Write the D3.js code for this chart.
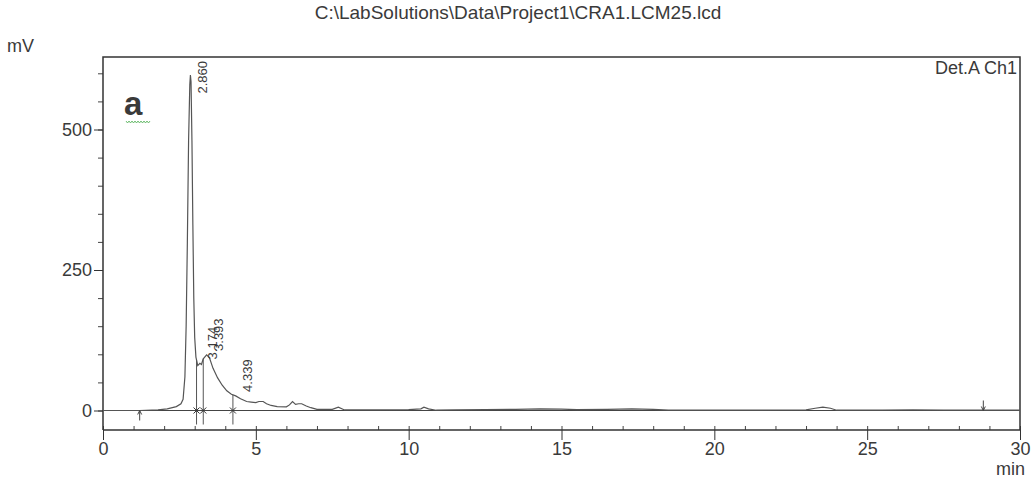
<!DOCTYPE html>
<html>
<head>
<meta charset="utf-8">
<script src="https://cdn.jsdelivr.net/npm/d3@7"></script>
<style>
  body { margin: 0; background: #fff; }
  text { font-family: "Liberation Sans", Arial, sans-serif; fill: #3a3a3a; }
</style>
</head>
<body>
<script>
// chromatogram
var times = [0, 1.2, 1.8, 2.1, 2.4, 2.55, 2.62, 2.68, 2.72, 2.76, 2.8, 2.84, 2.86, 2.88, 2.91, 2.94, 2.97, 3.0, 3.04, 3.1,
  3.17, 3.22, 3.28, 3.39, 3.48, 3.6, 3.75, 3.9, 4.05, 4.2, 4.34, 4.5, 4.7, 4.85, 5.0, 5.1, 5.24, 5.35, 5.5, 5.7,
  6.0, 6.1, 6.2, 6.3, 6.4, 6.5, 6.65, 6.8, 7.0, 7.5, 7.7, 7.9, 9.0, 10.0, 10.4, 10.5, 10.65, 10.9, 11.5, 12.5,
  13.5, 14.3, 15.0, 15.5, 16.5, 17.3, 18.0, 18.5, 19.5, 21.0, 23.0, 23.3, 23.55, 23.8, 24.0, 25.5, 26.5, 27.5, 29.0, 30.0];
var signal = [0, 0, 1, 3, 7, 12, 20, 60, 150, 300, 480, 580, 597, 585, 480, 330, 200, 130, 95, 80,
  84, 82, 92, 99, 94, 75, 58, 45, 35, 29, 26, 21, 16, 15, 14, 16, 16, 12, 9, 7,
  6.5, 10, 16, 11, 12, 12, 8, 5, 2, 2, 6, 1, 1, 1.5, 3, 6, 3, 0.5, 1, 1.5,
  2, 3, 2.5, 1.5, 2, 3, 2, 0.5, 0.5, 0.5, 1, 4, 6, 4, 0.5, 0.5, 1, 0.5, 0.5, 0.5];

var peakTimes = [2.860, 3.174, 3.393, 4.339];
var peakLabels = ["2.860", "3.174", "3.393", "4.339"];
var cutTimes = [3.06, 3.28, 4.25];
var startTime = 1.2, endTime = 28.8;

var xTicks = [0, 5, 10, 15, 20, 25, 30];
var yTicks = [0, 250, 500];

var title = "C:\\LabSolutions\\Data\\Project1\\CRA1.LCM25.lcd";

var W = 1036, H = 480;
var pLeft = 103, pRight = 1020, pTop = 57, pBottom = 430;

var svg = d3.select("body").append("svg")
  .attr("width", W).attr("height", H);

var x = d3.scaleLinear().domain([0, 30]).range([pLeft, pRight]);
var y = d3.scaleLinear().domain([0, 500]).range([410.5, 129.5]);

var data = times.map(function(t, i) { return {t: t, v: signal[i]}; });
var bis = d3.bisector(function(d) { return d.t; }).left;
function valueAt(t) {
  var i = bis(data, t);
  if (i <= 0) return data[0].v;
  var a = data[i - 1], b = data[i];
  return a.v + (b.v - a.v) * (t - a.t) / (b.t - a.t);
}

// minor ticks
svg.append("g")
  .attr("transform", "translate(0," + pBottom + ")")
  .call(d3.axisBottom(x).tickValues(d3.range(0, 31, 1)).tickSize(-4).tickFormat(""))
  .call(function(g) { g.select(".domain").remove(); g.selectAll("line").attr("stroke", "#444"); });
svg.append("g")
  .attr("transform", "translate(" + pLeft + ",0)")
  .call(d3.axisLeft(y).tickValues(d3.range(-0, 651, 50).filter(function(v) { return y(v) >= pTop; })).tickSize(5).tickFormat(""))
  .call(function(g) { g.select(".domain").remove(); g.selectAll("line").attr("stroke", "#444"); });

// x axis
svg.append("g")
  .attr("transform", "translate(0," + pBottom + ")")
  .call(d3.axisBottom(x).tickValues(xTicks).tickSize(10).tickPadding(2))
  .call(function(g) {
    g.select(".domain").remove();
    g.selectAll("line").attr("stroke", "#333");
    g.selectAll("text").style("font-size", "18px").attr("fill", "#3a3a3a");
  });

// y axis
svg.append("g")
  .attr("transform", "translate(" + pLeft + ",0)")
  .call(d3.axisLeft(y).tickValues(yTicks).tickSize(9).tickPadding(2))
  .call(function(g) {
    g.select(".domain").remove();
    g.selectAll("line").attr("stroke", "#333");
    g.selectAll("text").style("font-size", "18px").attr("fill", "#3a3a3a");
  });

// frame
svg.append("path")
  .attr("d", "M" + pLeft + "," + pBottom + "V" + pTop + "H" + pRight + "V" + pBottom + "H" + pLeft)
  .attr("fill", "none").attr("stroke", "#333").attr("stroke-width", 1.5);

// zero line
svg.append("line")
  .attr("x1", pLeft).attr("x2", pRight).attr("y1", y(0)).attr("y2", y(0))
  .attr("stroke", "#444").attr("stroke-width", 1.2);

// trace
var line = d3.line().x(function(d) { return x(d.t); }).y(function(d) { return y(d.v); });
svg.append("path")
  .datum(data)
  .attr("d", line)
  .attr("fill", "none").attr("stroke", "#555").attr("stroke-width", 1.2);

// peak cut lines and marks
cutTimes.forEach(function(t) {
  svg.append("line")
    .attr("x1", x(t)).attr("x2", x(t))
    .attr("y1", y(0) + 14).attr("y2", y(valueAt(t)))
    .attr("stroke", "#555").attr("stroke-width", 1);
  svg.append("path")
    .attr("d", "M" + (x(t) - 3) + "," + (y(0) - 3) + "l6,6M" + (x(t) + 3) + "," + (y(0) - 3) + "l-6,6")
    .attr("stroke", "#333").attr("stroke-width", 1);
});

// start / end arrows
svg.append("path")
  .attr("d", "M" + x(startTime) + "," + (y(0) + 10) + "V" + y(0) + "l-2,4M" + x(startTime) + "," + y(0) + "l2,4")
  .attr("fill", "none").attr("stroke", "#444").attr("stroke-width", 1);
svg.append("path")
  .attr("d", "M" + x(endTime) + "," + (y(0) - 10) + "V" + y(0) + "l-2,-4M" + x(endTime) + "," + y(0) + "l2,-4")
  .attr("fill", "none").attr("stroke", "#444").attr("stroke-width", 1);

// peak labels
peakTimes.forEach(function(t, i) {
  var px = x(t) + 12, py = y(valueAt(t)) - 4;
  var txt = svg.append("text")
    .style("font-size", "13px")
    .attr("dominant-baseline", "central")
    .text(peakLabels[i]);
  var len = txt.node().getComputedTextLength();
  if (py - len < pTop + 4) py = pTop + 4 + len;
  txt.attr("transform", "translate(" + px + "," + py + ") rotate(-90)");
});

// texts
svg.append("text").attr("x", 518).attr("y", 19).attr("text-anchor", "middle")
  .style("font-size", "19px").text(title);
svg.append("text").attr("x", 7).attr("y", 52).style("font-size", "18px").text("mV");
svg.append("text").attr("x", 1025).attr("y", 475).attr("text-anchor", "end")
  .style("font-size", "18px").text("min");
svg.append("text").attr("x", 1017).attr("y", 74).attr("text-anchor", "end")
  .style("font-size", "18px").text("Det.A Ch1");

svg.append("text").attr("x", 124).attr("y", 115)
  .style("font-size", "33px").style("font-weight", "bold").attr("fill", "#111").text("a");
svg.append("path")
  .attr("d", "M126,121" + d3.range(16).map(function(i) { return "l1.5," + (i % 2 ? -2 : 2); }).join(""))
  .attr("fill", "none").attr("stroke", "#4caf50").attr("stroke-width", 0.8);
</script>
</body>
</html>
